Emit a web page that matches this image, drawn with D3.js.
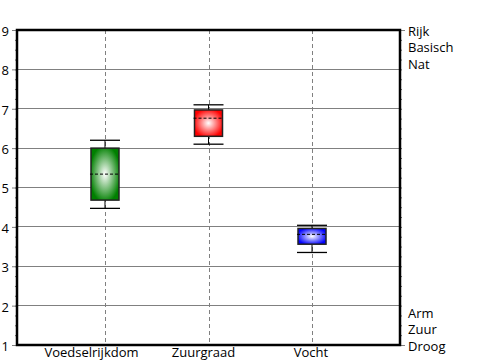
<!DOCTYPE html>
<html><head><meta charset="utf-8">
<script src="https://cdn.jsdelivr.net/npm/d3@7"></script>
<style>body{margin:0;background:#fff}svg{display:block}text{font-family:"Open Sans",sans-serif;font-size:13px;fill:#000}</style>
</head><body>
<svg id="c" width="500" height="360"></svg>
<script>
const categories = ["Voedselrijkdom", "Zuurgraad", "Vocht"];
const whiskerLow = [4.47, 6.1, 3.35];
const q1 = [4.68, 6.3, 3.56];
const q3 = [6.0, 6.97, 3.96];
const whiskerHigh = [6.2, 7.1, 4.04];
const means = [5.34, 6.76, 3.81];
const colors = ["#008000", "#ff0000", "#0000ff"];
const yTicks = [1, 2, 3, 4, 5, 6, 7, 8, 9];
const rightTopLabels = ["Rijk", "Basisch", "Nat"];
const rightBottomLabels = ["Arm", "Zuur", "Droog"];

const L = 17, R = 400, T = 30, B = 345;
const svg = d3.select("#c");
const x = d3.scalePoint().domain(categories).range([L, R]).padding(0.85);
const y = d3.scaleLinear().domain([1, 9]).range([B, T]);

// gradients
const defs = svg.append("defs");
colors.forEach((c, i) => {
  const g = defs.append("radialGradient").attr("id", "g" + i)
    .attr("cx", "50%").attr("cy", "50%").attr("r", "55%");
  g.append("stop").attr("offset", "0%").attr("stop-color", "#fff");
  g.append("stop").attr("offset", "100%").attr("stop-color", c);
});

// horizontal grid
svg.append("g").selectAll("line").data(yTicks.filter(v => v > 1 && v < 9)).join("line")
  .attr("x1", L).attr("x2", R).attr("y1", d => y(d)).attr("y2", d => y(d))
  .attr("stroke", "#808080").attr("stroke-width", 1).attr("shape-rendering", "crispEdges");
// vertical dashed grid
svg.append("g").selectAll("line").data(categories).join("line")
  .attr("x1", d => Math.round(x(d)) + 0.5).attr("x2", d => Math.round(x(d)) + 0.5).attr("y1", T).attr("y2", B)
  .attr("stroke", "#808080").attr("stroke-dasharray", "4,3");

// left axis major + minor
const minor = d3.range(1, 9.001, 0.25);
const leftAxis = d3.axisLeft(y).tickValues(minor).tickSize(2).tickFormat("");
svg.append("g").attr("transform", `translate(${L},0)`).call(leftAxis)
  .call(g => { g.select(".domain").remove(); g.selectAll("line").attr("stroke", "#666"); });
const leftMajor = d3.axisLeft(y).tickValues(yTicks).tickSize(5).tickPadding(3).tickFormat(d3.format("d"));
svg.append("g").attr("transform", `translate(${L},0)`).call(leftMajor)
  .call(g => { g.select(".domain").remove(); g.selectAll("line").attr("stroke", "#808080");
    g.selectAll("text").attr("font-size", 13).attr("font-family", null).attr("dy", "0.42em"); });

// right axis minor ticks
const rightAxis = d3.axisRight(y).tickValues(minor).tickSize(2).tickFormat("");
svg.append("g").attr("transform", `translate(${R},0)`).call(rightAxis)
  .call(g => { g.select(".domain").remove(); g.selectAll("line").attr("stroke", "#666"); });
const rightMajor = d3.axisRight(y).tickValues([1, 9]).tickSize(5).tickFormat("");
svg.append("g").attr("transform", `translate(${R},0)`).call(rightMajor)
  .call(g => { g.select(".domain").remove(); g.selectAll("line").attr("stroke", "#808080"); });

// boxes
const bw = 28, cw = 30;
const data = categories.map((c, i) => ({c, i, lo: whiskerLow[i], q1: q1[i], q3: q3[i], hi: whiskerHigh[i], m: means[i]}));
const gb = svg.append("g").selectAll("g").data(data).join("g");
gb.append("line").attr("x1", d => x(d.c)).attr("x2", d => x(d.c)).attr("y1", d => y(d.hi)).attr("y2", d => y(d.q3)).attr("stroke", "#000");
gb.append("line").attr("x1", d => x(d.c)).attr("x2", d => x(d.c)).attr("y1", d => y(d.q1)).attr("y2", d => y(d.lo)).attr("stroke", "#000");
gb.append("line").attr("x1", d => x(d.c) - cw / 2).attr("x2", d => x(d.c) + cw / 2).attr("y1", d => y(d.hi)).attr("y2", d => y(d.hi)).attr("stroke", "#000").attr("stroke-width", 1.3);
gb.append("line").attr("x1", d => x(d.c) - cw / 2).attr("x2", d => x(d.c) + cw / 2).attr("y1", d => y(d.lo)).attr("y2", d => y(d.lo)).attr("stroke", "#000").attr("stroke-width", 1.3);
gb.append("rect").attr("x", d => x(d.c) - bw / 2).attr("width", bw)
  .attr("y", d => y(d.q3)).attr("height", d => y(d.q1) - y(d.q3))
  .attr("fill", d => `url(#g${d.i})`).attr("stroke", "#222").attr("stroke-width", 1.5);
gb.append("line").attr("x1", d => x(d.c) - cw / 2).attr("x2", d => x(d.c) + cw / 2).attr("y1", d => y(d.m)).attr("y2", d => y(d.m))
  .attr("stroke", "#000").attr("stroke-dasharray", "3,2");

// frame
svg.append("rect").attr("x", L).attr("y", T).attr("width", R - L).attr("height", B - T)
  .attr("fill", "none").attr("stroke", "#000").attr("stroke-width", 2.5);

// category labels (nudged as in the original layout)
const labelNudge = [-13.5, -5, -1];
svg.append("g").selectAll("text").data(categories).join("text")
  .attr("x", (d, i) => x(d) + labelNudge[i]).attr("y", 357).attr("text-anchor", "middle").text(d => d);

// right labels
svg.append("g").selectAll("text").data(rightTopLabels).join("text")
  .attr("x", R + 8).attr("y", (d, i) => y(9) + i * 16.5).attr("dy", "0.45em")
  .attr("font-size", 12).text(d => d);
svg.append("g").selectAll("text").data(rightBottomLabels).join("text")
  .attr("x", R + 8).attr("y", (d, i) => y(1) - (2 - i) * 16.5).attr("dy", "0.45em")
  .attr("font-size", 12).text(d => d);
</script>
</body></html>
